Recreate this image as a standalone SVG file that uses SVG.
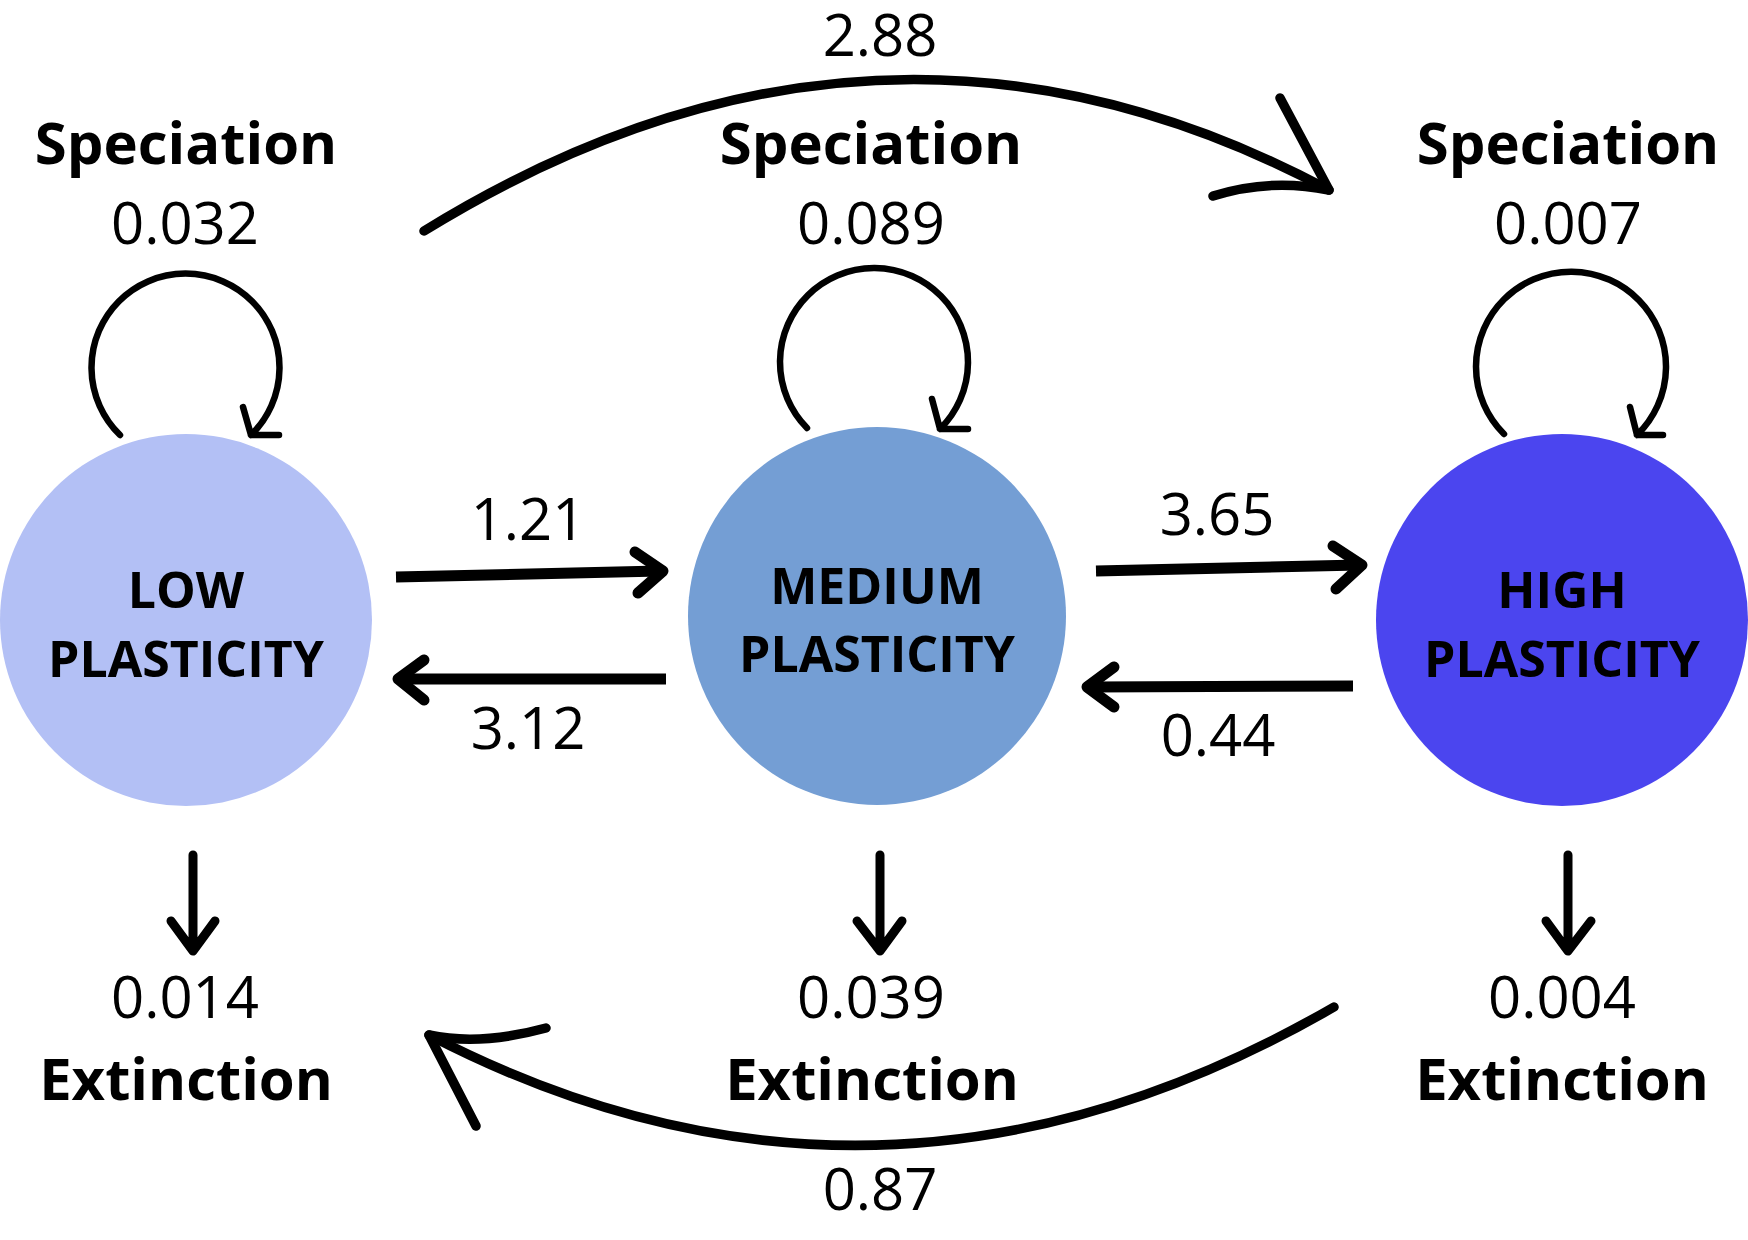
<svg xmlns="http://www.w3.org/2000/svg" width="1748" height="1240" viewBox="0 0 1748 1240">
<style>
.lbl{font-family:"Open Sans","Liberation Sans",sans-serif;font-weight:700;font-size:58px;fill:#000;text-anchor:middle}
.num{font-family:"Open Sans","Liberation Sans",sans-serif;font-weight:400;font-size:58px;fill:#000;text-anchor:middle}
.nd{font-family:"Open Sans","Liberation Sans",sans-serif;font-weight:700;font-size:50px;fill:#000;text-anchor:middle}
.loop{fill:none;stroke:#000;stroke-width:6.5;stroke-linecap:round;stroke-linejoin:round}
.thick{fill:none;stroke:#000;stroke-width:11;stroke-linecap:round;stroke-linejoin:round}
.shaft{fill:none;stroke:#000;stroke-width:11;stroke-linecap:butt}
.arc{fill:none;stroke:#000;stroke-width:9.5;stroke-linecap:round;stroke-linejoin:round}
.vert{fill:none;stroke:#000;stroke-width:9;stroke-linecap:round;stroke-linejoin:round}
</style>
<rect width="1748" height="1240" fill="#fff"/>
<g id="node-low">
<circle cx="186" cy="620" r="186" fill="#B3C0F5"/>
<text class="nd" x="186" y="608">LOW</text>
<text class="nd" x="186" y="677">PLASTICITY</text>
</g>
<g id="node-medium">
<circle cx="877" cy="616" r="189" fill="#749ED4"/>
<text class="nd" x="877" y="604">MEDIUM</text>
<text class="nd" x="877" y="672">PLASTICITY</text>
</g>
<g id="node-high">
<circle cx="1562" cy="620" r="186" fill="#4B45EF"/>
<text class="nd" x="1562" y="608">HIGH</text>
<text class="nd" x="1562" y="677">PLASTICITY</text>
</g>
<g id="labels">
<text class="lbl" x="186" y="164">Speciation</text>
<text class="lbl" x="871" y="164">Speciation</text>
<text class="lbl" x="1568" y="164">Speciation</text>
<text class="num" x="185" y="244">0.032</text>
<text class="num" x="871" y="244">0.089</text>
<text class="num" x="1568" y="244">0.007</text>
<text class="num" x="880" y="56">2.88</text>
<text class="num" x="528" y="540">1.21</text>
<text class="num" x="528" y="749">3.12</text>
<text class="num" x="1217" y="535">3.65</text>
<text class="num" x="1218" y="756">0.44</text>
<text class="num" x="185" y="1018">0.014</text>
<text class="num" x="871" y="1018">0.039</text>
<text class="num" x="1562" y="1018">0.004</text>
<text class="lbl" x="186" y="1100">Extinction</text>
<text class="lbl" x="872" y="1100">Extinction</text>
<text class="lbl" x="1562" y="1100">Extinction</text>
<text class="num" x="880" y="1210">0.87</text>
</g>
<g id="connectors">
<path class="loop" d="M120,435 A94,94 0 1 1 251,435 M243,407 L251,435 L279,435"/>
<path class="loop" d="M807,428 A94,94 0 1 1 940,429 M932,399 L940,429 L968,429"/>
<path class="loop" d="M1504,434 A95,95 0 1 1 1637,435 M1630,407 L1637,435 L1663,435"/>
<path class="shaft" d="M396,577 L660,571"/>
<path class="thick" d="M635,552 L663,571 L638,593"/>
<path class="shaft" d="M666,679 L402,679"/>
<path class="thick" d="M424,660 L398,679 L424,700"/>
<path class="shaft" d="M1096,571 L1359,565"/>
<path class="thick" d="M1333,546 L1362,565 L1336,589"/>
<path class="shaft" d="M1353,686 L1091,687"/>
<path class="thick" d="M1114,667 L1087,687 L1114,707"/>
<path class="arc" d="M424,231 Q880,-50 1329,190"/>
<path class="arc" d="M1280,98 L1329,190 Q1270,178 1213,196"/>
<path class="arc" d="M1334,1007 Q880,1269 429,1035"/>
<path class="arc" d="M476,1126 L429,1035 Q480,1046 546,1028"/>
<path class="vert" d="M193,855 L193,951 M171,921 L193,951 L215,921"/>
<path class="vert" d="M880,855 L880,951 M857,921 L880,951 L902,921"/>
<path class="vert" d="M1568,855 L1568,951 M1546,921 L1568,951 L1591,921"/>
</g>
</svg>
